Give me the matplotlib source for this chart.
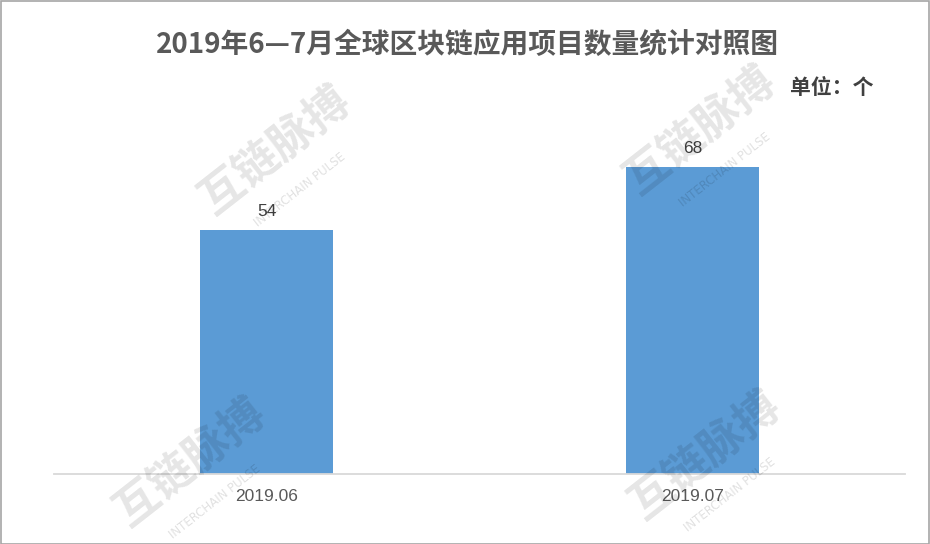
import matplotlib
matplotlib.use("Agg")
import matplotlib.pyplot as plt
from matplotlib.patches import Rectangle

plt.rcParams['font.family'] = ['Noto Sans CJK SC', 'DejaVu Sans']

categories = ["2019.06", "2019.07"]
counts = [54, 68]
title = "2019年6—7月全球区块链应用项目数量统计对照图"
unit_label = "单位：个"

W, H = 930, 544
fig = plt.figure(figsize=(W / 100, H / 100), dpi=100)
fig.patch.set_facecolor("white")

# plot area in pixel terms
left, right, base = 54, 905, 474
ymax = 80
px_per_unit = 4.52
top = base - ymax * px_per_unit
ax = fig.add_axes([left / W, (H - base) / H, (right - left) / W, (base - top) / H])

x = list(range(len(categories)))
bars = ax.bar(x, counts, width=0.312, color="#5B9BD5", zorder=2)
ax.set_xlim(-0.5, 1.5)
ax.set_ylim(0, ymax)

for rect, v in zip(bars, counts):
    ax.annotate(str(v), (rect.get_x() + rect.get_width() / 2, v),
                xytext=(0, 8), textcoords="offset points",
                ha="center", va="bottom", fontsize=12.5, color="#404040",
                family=["Liberation Sans", "DejaVu Sans"])

ax.set_xticks(x)
ax.set_xticklabels(categories, fontsize=12.5, color="#595959",
                   family=["Liberation Sans", "DejaVu Sans"])
ax.tick_params(axis="x", length=0, pad=11)
ax.set_yticks([])
for s in ["top", "right", "left"]:
    ax.spines[s].set_visible(False)
ax.spines["bottom"].set_color("#D9D9D9")
ax.spines["bottom"].set_linewidth(1.3)
ax.set_facecolor("none")

fig.text(467 / W, 1 - 45 / H, title, ha="center", va="center",
         fontsize=20, fontweight="bold", color="#595959")
fig.text(873 / W, 1 - 88 / H, unit_label, ha="right", va="center",
         fontsize=15, fontweight="bold", color="#404040")

# faint brand watermarks
marks = [(275, 150), (700, 130), (705, 455), (190, 462)]
for mx, my in marks:
    fig.text(mx / W, 1 - my / H, "互链脉搏", ha="center", va="center",
             fontsize=32, fontweight="bold", color="#000000", alpha=0.10,
             rotation=38, zorder=5)
    fig.text((mx + 25) / W, 1 - (my + 40) / H, "INTERCHAIN PULSE",
             ha="center", va="center", fontsize=8.5, color="#000000",
             alpha=0.12, rotation=38, zorder=5,
             family=["DejaVu Sans"])

# thin frame around the figure
fig.add_artist(Rectangle((0.5 / W, 0.5 / H), 1 - 1.5 / W, 1 - 1.5 / H,
                         transform=fig.transFigure, fill=False,
                         edgecolor="#A6A6A6", linewidth=1.2))

fig.savefig("out.png", dpi=100, facecolor="white")
